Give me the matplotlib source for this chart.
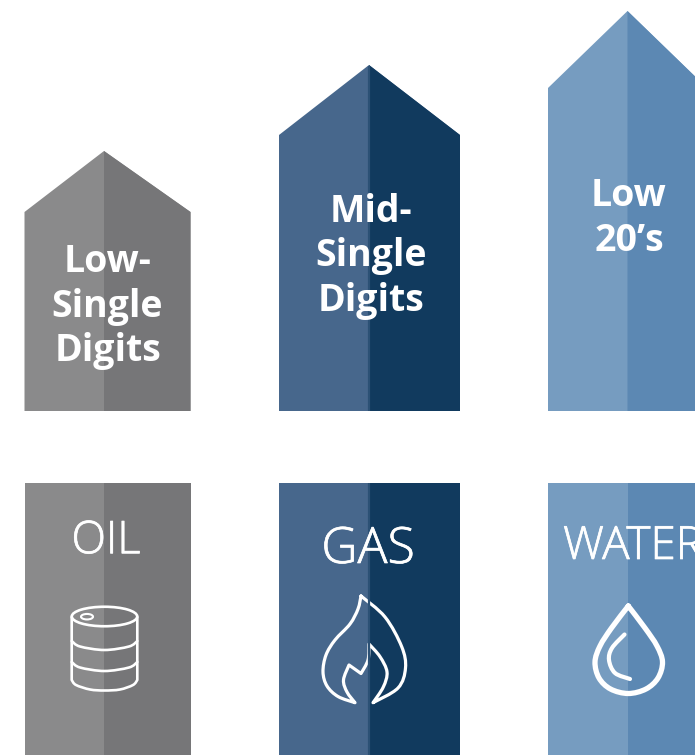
import matplotlib
matplotlib.use("Agg")
import matplotlib.pyplot as plt
import matplotlib.patheffects as pe
from matplotlib.patches import Polygon, Rectangle, Ellipse, PathPatch
from matplotlib.path import Path

# growth labels and resource names per column
growth_labels = [["Low-", "Single", "Digits"], ["Mid-", "Single", "Digits"], ["Low", "20\u2019s"]]
resources = ["OIL", "GAS", "WATER"]

# arrow sizes in pixels above the shared baseline
shoulder_heights = [199, 276, 323]
tip_heights = [260, 346, 400]

light_colors = ["#8a8a8b", "#47678c", "#769cc0"]
dark_colors = ["#767678", "#113a5e", "#5c88b3"]

lefts = [24.5, 279, 548]
splits = [104, 369, 627.5]
rights = [190.5, 460, 707]
label_x = [107.5, 371.2, 629]
label_top = [257.5, 207, 192]
name_x = [106, 368, 633]
name_y = [536.5, 544, 541.5]
name_size = [32.5, 36, 33]

BASE = 411
BOX_TOP = 483
BOX_BOTTOM = 755
FONT = "Open Sans"

fig = plt.figure(figsize=(6.95, 7.55), dpi=100)
ax = fig.add_axes([0, 0, 1, 1])
ax.set_xlim(0, 695)
ax.set_ylim(755, 0)
ax.axis("off")

for i in range(3):
    shoulder = BASE - shoulder_heights[i]
    tip = BASE - tip_heights[i]
    # whole shape in the light tone, right half on top so no seam shows
    ax.add_patch(Polygon([(lefts[i], BASE), (lefts[i], shoulder), (splits[i], tip),
                          (rights[i], shoulder), (rights[i], BASE)],
                         fc=light_colors[i], ec="none"))
    ax.add_patch(Polygon([(splits[i], BASE), (splits[i], tip), (rights[i], shoulder), (rights[i], BASE)],
                         fc=dark_colors[i], ec="none"))
    ax.add_patch(Rectangle((lefts[i], BOX_TOP), rights[i] - lefts[i], BOX_BOTTOM - BOX_TOP,
                           fc=light_colors[i], ec="none"))
    ax.add_patch(Rectangle((splits[i], BOX_TOP), rights[i] - splits[i], BOX_BOTTOM - BOX_TOP,
                           fc=dark_colors[i], ec="none"))

    for j, line in enumerate(growth_labels[i]):
        ax.text(label_x[i], label_top[i] + j * 44.5, line, color="white", fontsize=27,
                fontweight="bold", family=FONT, ha="center", va="center_baseline")
    name = ax.text(name_x[i], name_y[i], resources[i], color="white", fontsize=name_size[i],
                   fontweight="light", family=FONT, ha="center", va="center_baseline", clip_on=True)
    name.set_path_effects([pe.withStroke(linewidth=0.5, foreground="white")])

# thin seam on the gas column
for top, bottom in [(66, BASE), (BOX_TOP, BOX_BOTTOM)]:
    ax.plot([368.9, 368.9], [top, bottom], color="#2c5175", lw=1.6, solid_capstyle="butt")


# runs through waypoints with a Catmull-Rom curve, corners only where two runs meet
def stroke(runs, lw):
    verts = []
    codes = []
    for run in runs:
        if not verts:
            verts.append(run[0])
            codes.append(Path.MOVETO)
        n = len(run)
        for k in range(n - 1):
            p0 = run[max(k - 1, 0)]
            p1 = run[k]
            p2 = run[k + 1]
            p3 = run[min(k + 2, n - 1)]
            c1 = (p1[0] + (p2[0] - p0[0]) / 6, p1[1] + (p2[1] - p0[1]) / 6)
            c2 = (p2[0] - (p3[0] - p1[0]) / 6, p2[1] - (p3[1] - p1[1]) / 6)
            verts += [c1, c2, p2]
            codes += [Path.CURVE4, Path.CURVE4, Path.CURVE4]
    ax.add_patch(PathPatch(Path(verts, codes), fc="none", ec="white", lw=lw,
                           capstyle="round", joinstyle="round"))


# oil barrel
ax.add_patch(Ellipse((104.5, 616.5), 65.5, 19.5, fc="none", ec="white", lw=1.9))
ax.add_patch(Ellipse((87, 616.7), 12, 5.5, fc="none", ec="white", lw=1.5))
stroke([[(71.7, 617), (71.7, 680)],
        [(71.7, 680), (76, 685), (90, 689.5), (104.5, 690.5), (120, 689.5), (133, 685), (137.3, 680)],
        [(137.3, 680), (137.3, 617)]], 1.9)
stroke([[(71.7, 641), (80, 646.5), (104.5, 650), (129, 646.5), (137.3, 641)]], 1.9)
stroke([[(71.7, 662), (80, 667.5), (104.5, 671), (129, 667.5), (137.3, 662)]], 1.9)

# gas flame
stroke([[(361, 596), (385, 617), (401.7, 646.7), (405.5, 668), (398, 688), (373, 702.7)],
        [(373, 702.7), (383.3, 687), (387, 672), (380, 656.7), (369, 644)],
        [(369, 644), (368, 660), (361, 673.5)],
        [(361, 673.5), (349, 665)],
        [(349, 665), (343.5, 680), (347, 692), (355, 702.7)],
        [(355, 702.7), (338, 696.5), (327, 686), (323, 672), (326, 655), (335, 640), (350, 624),
         (358, 609), (361, 596)]], 2.3)

# water drop
stroke([[(628.3, 606), (645, 628), (657, 646), (662.5, 662), (658, 678), (646, 689), (628.3, 693.5),
         (610.5, 689), (599, 678), (595, 662), (600, 646), (611.5, 628), (628.3, 606)]], 3.8)
stroke([[(624.5, 634.5), (612, 648), (609, 660), (615, 673), (630, 679)]], 3.0)

fig.savefig("out.png", dpi=100)
